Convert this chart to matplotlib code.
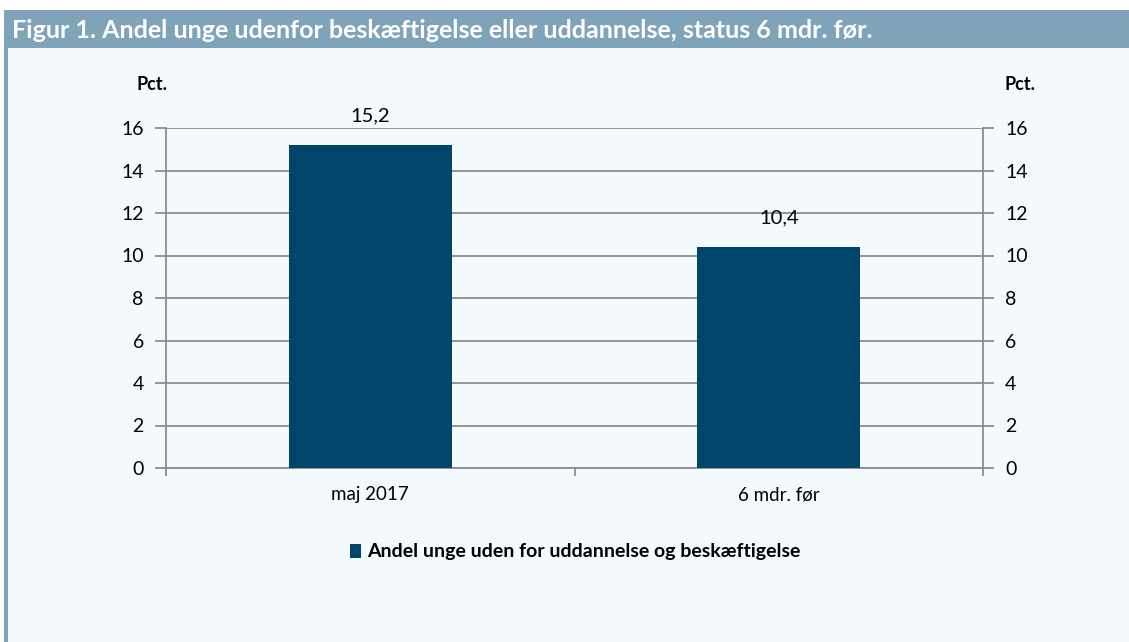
import matplotlib.pyplot as plt
from matplotlib.patches import Rectangle

# Data
categories = ['maj 2017', '6 mdr. før']
values = [15.2, 10.4]
value_labels = ['15,2', '10,4']
series_name = 'Andel unge uden for uddannelse og beskæftigelse'
title = 'Figur 1. Andel unge udenfor beskæftigelse eller uddannelse, status 6 mdr. før.'

bar_color = '#00466B'
header_color = '#7FA3B8'
bg_color = '#F4F9FD'
grid_color = '#8C8C8C'

plt.rcParams['font.family'] = ['Lato', 'DejaVu Sans']

W, H = 1129, 642
fig = plt.figure(figsize=(W / 100, H / 100), dpi=100)
fig.patch.set_facecolor('white')

# Panel background, header bar, left border
fig.add_artist(Rectangle((4 / W, 0), (W - 4) / W, (H - 10) / H, transform=fig.transFigure,
                         facecolor=bg_color, edgecolor='none', zorder=-3))
fig.add_artist(Rectangle((4 / W, 0), 4 / W, (H - 10) / H, transform=fig.transFigure,
                         facecolor=header_color, edgecolor='none', zorder=-2))
fig.add_artist(Rectangle((4 / W, 1 - 48 / H), (W - 4) / W, 38 / H, transform=fig.transFigure,
                         facecolor=header_color, edgecolor='none', zorder=-1))
fig.text(12 / W, 1 - 31 / H, title, color='white', fontsize=18, fontweight='bold',
         va='center', ha='left')

ax = fig.add_axes([166 / W, 1 - 468 / H, 817 / W, 340 / H])
ax.set_facecolor('none')
x = range(len(categories))
ax.bar(x, values, width=0.4, color=bar_color, zorder=3, label=series_name)
ax.set_xlim(-0.5, len(categories) - 0.5)
ax.set_ylim(0, 16)
ax.set_yticks(range(0, 17, 2))
ax.yaxis.grid(True, color=grid_color, linewidth=1.3, zorder=0)
ax.set_axisbelow(True)

for i, (v, lab) in enumerate(zip(values, value_labels)):
    ax.text(i, v + 0.95, lab, ha='center', va='bottom', fontsize=14.5)

# x ticks: labels at category centres, tick marks between categories
ax.set_xticks(list(x))
ax.set_xticklabels(categories, fontsize=13.5)
ax.tick_params(axis='x', length=0, pad=13)
ax.set_xticks([-0.5, 0.5, 1.5], minor=True)
ax.tick_params(axis='x', which='minor', length=6, width=1.3, color=grid_color, direction='out')

ax.tick_params(axis='y', length=8, width=1.3, color=grid_color, labelsize=14, pad=8)
for s in ['top', 'right']:
    ax.spines[s].set_visible(False)
for s in ['left', 'bottom']:
    ax.spines[s].set_color(grid_color)
    ax.spines[s].set_linewidth(1.3)

ax2 = ax.twinx()
ax2.set_ylim(0, 16)
ax2.set_yticks(range(0, 17, 2))
ax2.tick_params(axis='y', length=8, width=1.3, color=grid_color, labelsize=14, pad=8)
for s in ['top', 'left', 'bottom']:
    ax2.spines[s].set_visible(False)
ax2.spines['right'].set_color(grid_color)
ax2.spines['right'].set_linewidth(1.3)

fig.text(152 / W, 1 - 85 / H, 'Pct.', fontsize=13, fontweight='bold', ha='center', va='center')
fig.text(1020 / W, 1 - 85 / H, 'Pct.', fontsize=13, fontweight='bold', ha='center', va='center')

handles, labels = ax.get_legend_handles_labels()
leg = fig.legend(handles, labels, loc='center', bbox_to_anchor=(575 / W, 1 - 552 / H),
                 frameon=False, prop={'weight': 'bold', 'size': 14},
                 handlelength=0.6, handleheight=0.7, handletextpad=0.3)

fig.savefig('out.png', dpi=100)
